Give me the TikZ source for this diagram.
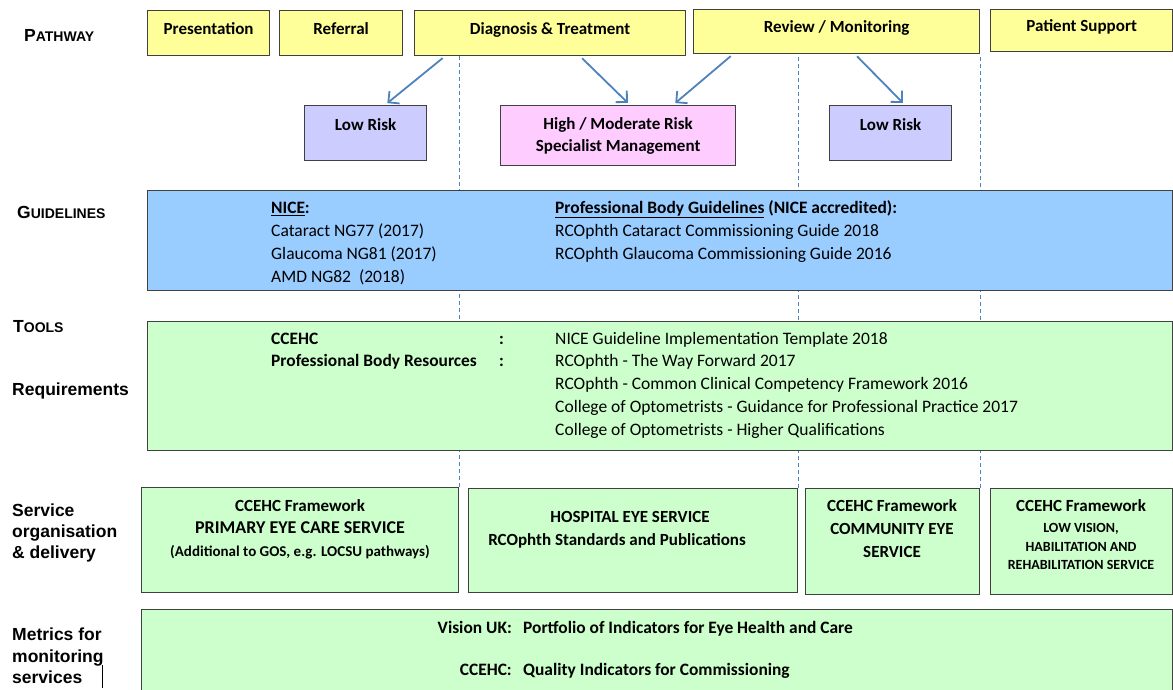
\documentclass[tikz,border=0pt]{standalone}
\usepackage{fontspec}
\setmainfont{Carlito}
\newfontfamily\labelfont{Liberation Sans}
\usetikzlibrary{arrows.meta,backgrounds}

\definecolor{boxline}{RGB}{64,64,64}
\definecolor{stageyellow}{RGB}{255,255,153}
\definecolor{lowlilac}{RGB}{204,204,255}
\definecolor{highpink}{RGB}{255,204,255}
\definecolor{guideblue}{RGB}{153,204,255}
\definecolor{toolgreen}{RGB}{204,255,204}
\definecolor{flowblue}{RGB}{79,129,189}

\tikzset{
  box/.style={draw=boxline, line width=1.2pt, anchor=north west, inner sep=0pt},
  stage/.style={box, fill=stageyellow, font=\bfseries\fontsize{17}{20}\selectfont, text height=12pt, text depth=10pt},
  lowrisk/.style={box, fill=lowlilac, font=\bfseries\fontsize{17}{20}\selectfont, text height=12pt, text depth=18pt},
  band/.style={box, fill=toolgreen},
  txt/.style={anchor=base west, inner sep=0pt, font=\fontsize{17.5}{20}\selectfont},
  btxt/.style={txt, font=\bfseries\fontsize{17.4}{20}\selectfont},
  ctxt/.style={anchor=base, inner sep=0pt, font=\fontsize{17}{20}\selectfont},
  cbtxt/.style={ctxt, font=\bfseries\fontsize{17}{20}\selectfont},
  side/.style={anchor=base west, inner sep=0pt, font=\labelfont\bfseries\fontsize{17.5}{20}\selectfont},
  flow/.style={draw=flowblue, line width=1.8pt, -{Straight Barb[length=8pt,width=16pt]}, shorten <=3pt, shorten >=3pt},
  guide/.style={draw=flowblue, line width=0.7pt, dash pattern=on 4pt off 3pt},
}

\begin{document}
\begin{tikzpicture}[x=1pt,y=1pt,yscale=-1]
\useasboundingbox (0,0) rectangle (1173,689);

% pathway stages
\node[stage, minimum width=122pt, minimum height=45pt] (pres) at (147,10) {Presentation};
\node[stage, minimum width=123pt, minimum height=45pt] (refer) at (279,10) {Referral};
\node[stage, minimum width=271pt, minimum height=45pt] (diag) at (414,10) {Diagnosis \& Treatment};
\node[stage, minimum width=286pt, minimum height=44pt] (review) at (693,9) {Review / Monitoring};
\node[stage, minimum width=182pt, minimum height=42pt] (supp) at (990,9) {Patient Support};

% risk boxes
\node[lowrisk, minimum width=122pt, minimum height=55pt] (low1) at (304,105) {Low Risk};
\node[box, fill=highpink, minimum width=235pt, minimum height=60pt, align=center, font=\bfseries\fontsize{17}{22}\selectfont] (high) at (500,105) {High / Moderate Risk\\Specialist Management};
\node[lowrisk, minimum width=122pt, minimum height=55pt] (low2) at (829,105) {Low Risk};

% arrows
\draw[flow] ([xshift=31pt]diag.south west) -- ([xshift=81pt]low1.north west);
\draw[flow] ([xshift=166pt]diag.south west) -- ([xshift=130pt]high.north west);
\draw[flow] ([xshift=40pt]review.south west) -- ([xshift=173pt]high.north west);
\draw[flow] ([xshift=162pt]review.south west) -- ([xshift=76pt]low2.north west);

% guidelines
\node[box, fill=guideblue, minimum width=1025pt, minimum height=100pt] (guide) at (147,190) {};
\node[btxt] (nicehead) at (271,213.5) {\underline{NICE}:};
\node[txt] (nice1) at (271,236.5) {Cataract NG77 (2017)};
\node[txt] (nice2) at (271,259.5) {Glaucoma NG81 (2017)};
\node[txt] (nice3) at (271,282) {AMD NG82\ \ (2018)};
\node[btxt] (profhead) at (555,213.5) {\underline{Professional Body Guidelines} (NICE accredited):};
\node[txt] (prof1) at (555,236.5) {RCOphth Cataract Commissioning Guide 2018};
\node[txt] (prof2) at (555,259.5) {RCOphth Glaucoma Commissioning Guide 2016};

% tools
\node[band, minimum width=1025pt, minimum height=129pt] (tools) at (147,321) {};
\node[btxt] (toolccehc) at (271,344.5) {CCEHC};
\node[btxt] (toolprof) at (271,366.5) {Professional Body Resources};
\node[btxt] (colon1) at (499,344.5) {:};
\node[btxt] (colon2) at (499,366.5) {:};
\node[txt] (res1) at (555,344.5) {NICE Guideline Implementation Template 2018};
\node[txt] (res2) at (555,366.5) {RCOphth - The Way Forward 2017};
\node[txt] (res3) at (555,389.5) {RCOphth - Common Clinical Competency Framework 2016};
\node[txt] (res4) at (555,412.5) {College of Optometrists - Guidance for Professional Practice 2017};
\node[txt] (res5) at (555,435.5) {College of Optometrists - Higher Qualifications};

% services
\node[band, minimum width=317pt, minimum height=105pt] (prim) at (141,487) {};
\node[cbtxt] (prim1) at (300,511.5) {CCEHC Framework};
\node[cbtxt, font=\bfseries\fontsize{18}{20}\selectfont] (prim2) at (300,533.5) {PRIMARY EYE CARE SERVICE};
\node[cbtxt, font=\bfseries\fontsize{15}{18}\selectfont] (prim3) at (300,556) {(Additional to GOS, e.g. LOCSU pathways)};
\node[band, minimum width=329pt, minimum height=104pt] (hosp) at (468,488) {};
\node[cbtxt] (hosp1) at (630,522.5) {HOSPITAL EYE SERVICE};
\node[cbtxt] (hosp2) at (617,545.5) {RCOphth Standards and Publications};
\node[band, minimum width=174pt, minimum height=106pt] (comm) at (805,488) {};
\node[cbtxt] (comm1) at (892,511.5) {CCEHC Framework};
\node[cbtxt] (comm2) at (892,534.5) {COMMUNITY EYE};
\node[cbtxt] (comm3) at (892,557.5) {SERVICE};
\node[band, minimum width=182pt, minimum height=106pt] (lowvis) at (990,488) {};
\node[cbtxt] (lowvis1) at (1081,511.5) {CCEHC Framework};
\node[cbtxt, font=\bfseries\fontsize{14}{16}\selectfont] (lowvis2) at (1081,532) {LOW VISION,};
\node[cbtxt, font=\bfseries\fontsize{14}{16}\selectfont] (lowvis3) at (1081,551) {HABILITATION AND};
\node[cbtxt, font=\bfseries\fontsize{14}{16}\selectfont] (lowvis4) at (1081,569) {REHABILITATION SERVICE};

% metrics
\node[band, minimum width=1031pt, minimum height=90pt] (metrics) at (141,609) {};
\node[btxt, anchor=base east] (visionuk) at (512,633.5) {Vision UK:};
\node[btxt] (portfolio) at (523,633.5) {Portfolio of Indicators for Eye Health and Care};
\node[btxt, anchor=base east] (metccehc) at (512,675.5) {CCEHC:};
\node[btxt] (quality) at (523,675.5) {Quality Indicators for Commissioning};

% dashed column guides
\begin{scope}[on background layer]
\draw[guide] (prim.north east) -- (prim.north east |- diag.south);
\draw[guide] (hosp.north east) -- (hosp.north east |- review.south);
\draw[guide] (comm.north east) -- (review.south east);
\end{scope}

% row labels
\node[side] (lpath) at (24,41) {P{\fontsize{14}{20}\selectfont ATHWAY}};
\node[side] (lguide) at (17,218) {G{\fontsize{14}{20}\selectfont UIDELINES}};
\node[side] (ltools) at (13,332) {T{\fontsize{14}{20}\selectfont OOLS}};
\node[side] (lreq) at (12,395) {Requirements};
\node[side] (lserv1) at (12,516) {Service};
\node[side] (lserv2) at (12,537) {organisation};
\node[side] (lserv3) at (12,558) {\& delivery};
\node[side] (lmet1) at (12,640) {Metrics for};
\node[side] (lmet2) at (12,662) {monitoring};
\node[side] (lmet3) at (12,683) {services};
\draw[line width=0.8pt] (102,665) -- (102,688);

\end{tikzpicture}
\end{document}
